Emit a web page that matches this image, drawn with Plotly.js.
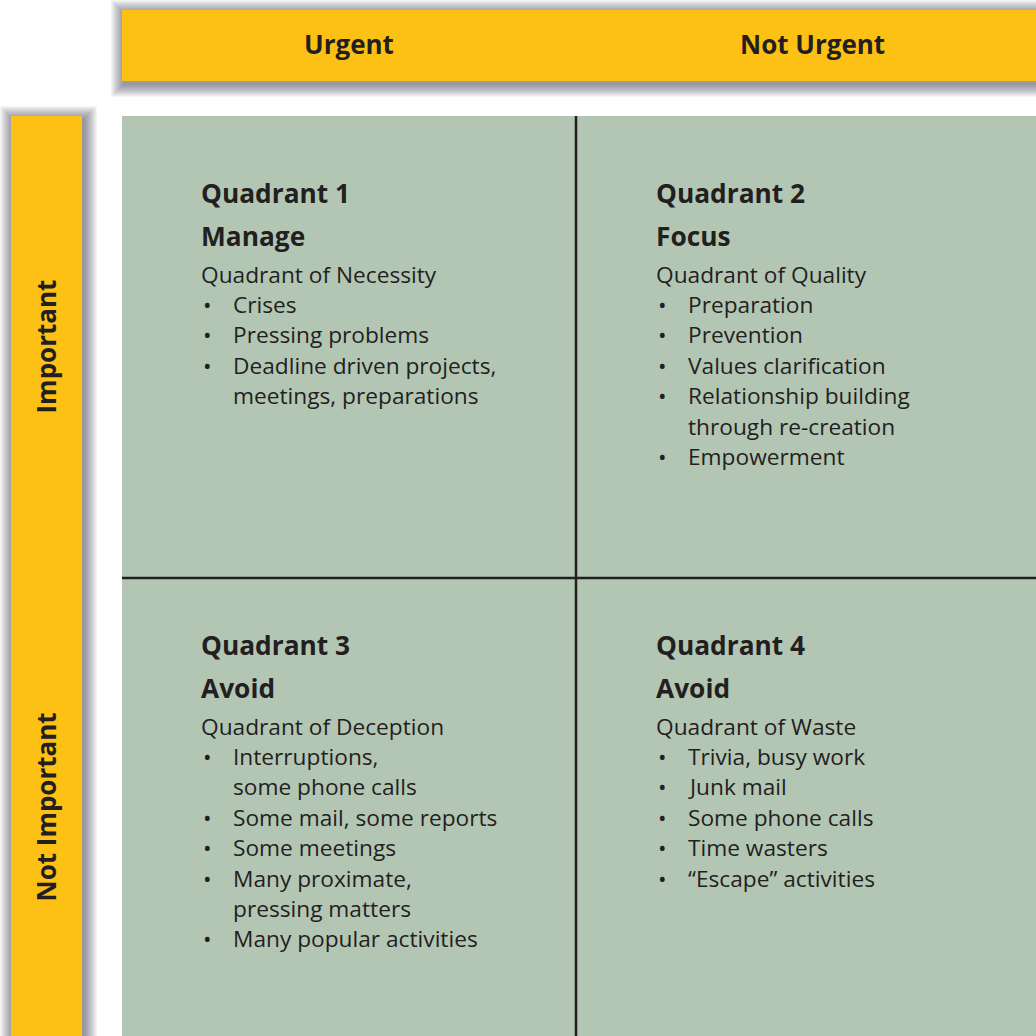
<!DOCTYPE html>
<html>
<head>
<meta charset="utf-8">
<script src="https://cdn.plot.ly/plotly-3.0.1.min.js"></script>
<style>
html,body{margin:0;padding:0;background:#fff;}
#chart{width:1036px;height:1036px;}
</style>
</head>
<body>
<div id="chart"></div>
<script>
// ---- content ----
const colHeaders = ["Urgent", "Not Urgent"];
const rowHeaders = ["Important", "Not Important"];
const quadrantTitles = ["Quadrant 1", "Quadrant 2", "Quadrant 3", "Quadrant 4"];
const quadrantActions = ["Manage", "Focus", "Avoid", "Avoid"];
const quadrantSubtitles = ["Quadrant of Necessity", "Quadrant of Quality", "Quadrant of Deception", "Quadrant of Waste"];
const q1Items = [["Crises"], ["Pressing problems"], ["Deadline driven projects,", "meetings, preparations"]];
const q2Items = [["Preparation"], ["Prevention"], ["Values clarification"], ["Relationship building", "through re-creation"], ["Empowerment"]];
const q3Items = [["Interruptions,", "some phone calls"], ["Some mail, some reports"], ["Some meetings"], ["Many proximate,", "pressing matters"], ["Many popular activities"]];
const q4Items = [["Trivia, busy work"], ["Junk mail"], ["Some phone calls"], ["Time wasters"], ["\u201cEscape\u201d activities"]];
const quadrantItems = [q1Items, q2Items, q3Items, q4Items];

// ---- layout geometry ----
const W = 1036, H = 1036;
const ORANGE = "#FDC115", GREEN = "#B3C6B4", INK = "#231F20";
const FONT = "Open Sans, Lato, sans-serif";
const topBar = {x0: 122, x1: 1036, y0: 10, y1: 81};
const leftBar = {x0: 11, x1: 82, y0: 116, y1: 1036};
const panel = {x0: 122, x1: 1036, y0: 116, y1: 1036};
const divX = 576, divY = 578;
const colTextX = [200, 655];
const headingY = [193, 645];
const lineStep = 30.4;
const BODY = 22.7, HEAD = 26.3;

const shapes = [];
function shadow(b) {
  for (let i = 1; i <= 13; i++) {
    shapes.push({type: "rect", xref: "x", yref: "y", layer: "below",
      x0: b.x0 - i + 2, x1: b.x1 + i + 2, y0: b.y0 - i + 3, y1: b.y1 + i + 3,
      fillcolor: "rgba(60,60,75,0.05)", line: {width: 0}});
  }
}
shadow(topBar); shadow(leftBar);
[topBar, leftBar].forEach(b => shapes.push({type: "rect", xref: "x", yref: "y", layer: "below",
  x0: b.x0, x1: b.x1, y0: b.y0, y1: b.y1, fillcolor: ORANGE, line: {width: 0}}));
shapes.push({type: "rect", xref: "x", yref: "y", layer: "below",
  x0: panel.x0, x1: panel.x1, y0: panel.y0, y1: panel.y1, fillcolor: GREEN, line: {width: 0}});
shapes.push({type: "line", xref: "x", yref: "y", x0: divX, x1: divX, y0: panel.y0, y1: panel.y1, line: {color: INK, width: 2.5}});
shapes.push({type: "line", xref: "x", yref: "y", x0: panel.x0, x1: panel.x1, y0: divY, y1: divY, line: {color: INK, width: 2.5}});

const annotations = [];
function txt(text, x, y, size, bold, extra) {
  annotations.push(Object.assign({xref: "x", yref: "y", x: x, y: y, text: bold ? "<b>" + text + "</b>" : text,
    showarrow: false, xanchor: "left", yanchor: "middle", borderpad: 0,
    font: {family: FONT, size: size, color: INK}}, extra || {}));
}
// column headers
const colCenters = [(panel.x0 + divX) / 2, (divX + panel.x1) / 2 + 6];
colHeaders.forEach((t, i) => txt(t, colCenters[i], (topBar.y0 + topBar.y1) / 2 - 2, 26, true, {xanchor: "center"}));
// row headers
const rowCenters = [(panel.y0 + divY) / 2, (divY + panel.y1) / 2];
rowHeaders.forEach((t, i) => txt(t, (leftBar.x0 + leftBar.x1) / 2 - 1, rowCenters[i], 26, true, {xanchor: "center", textangle: -90}));
// quadrant texts
quadrantTitles.forEach((t, q) => {
  const cx = colTextX[q % 2];
  let y = headingY[Math.floor(q / 2)];
  txt(t, cx, y, HEAD, true);
  y += 43;
  txt(quadrantActions[q], cx, y, HEAD, true);
  y += 38;
  txt(quadrantSubtitles[q], cx, y, BODY, false);
  quadrantItems[q].forEach(item => {
    item.forEach((line, li) => {
      y += lineStep;
      if (li === 0) txt("\u2022", cx + 2, y, BODY, false);
      txt(line, cx + 32, y, BODY, false);
    });
  });
});

const layout = {
  width: W, height: H, margin: {l: 0, r: 0, t: 0, b: 0},
  paper_bgcolor: "#ffffff", plot_bgcolor: "#ffffff",
  xaxis: {range: [0, W], visible: false, fixedrange: true},
  yaxis: {range: [H, 0], visible: false, fixedrange: true},
  shapes: shapes, annotations: annotations, showlegend: false
};
Plotly.newPlot("chart", [], layout, {staticPlot: true, displayModeBar: false});
</script>
</body>
</html>
